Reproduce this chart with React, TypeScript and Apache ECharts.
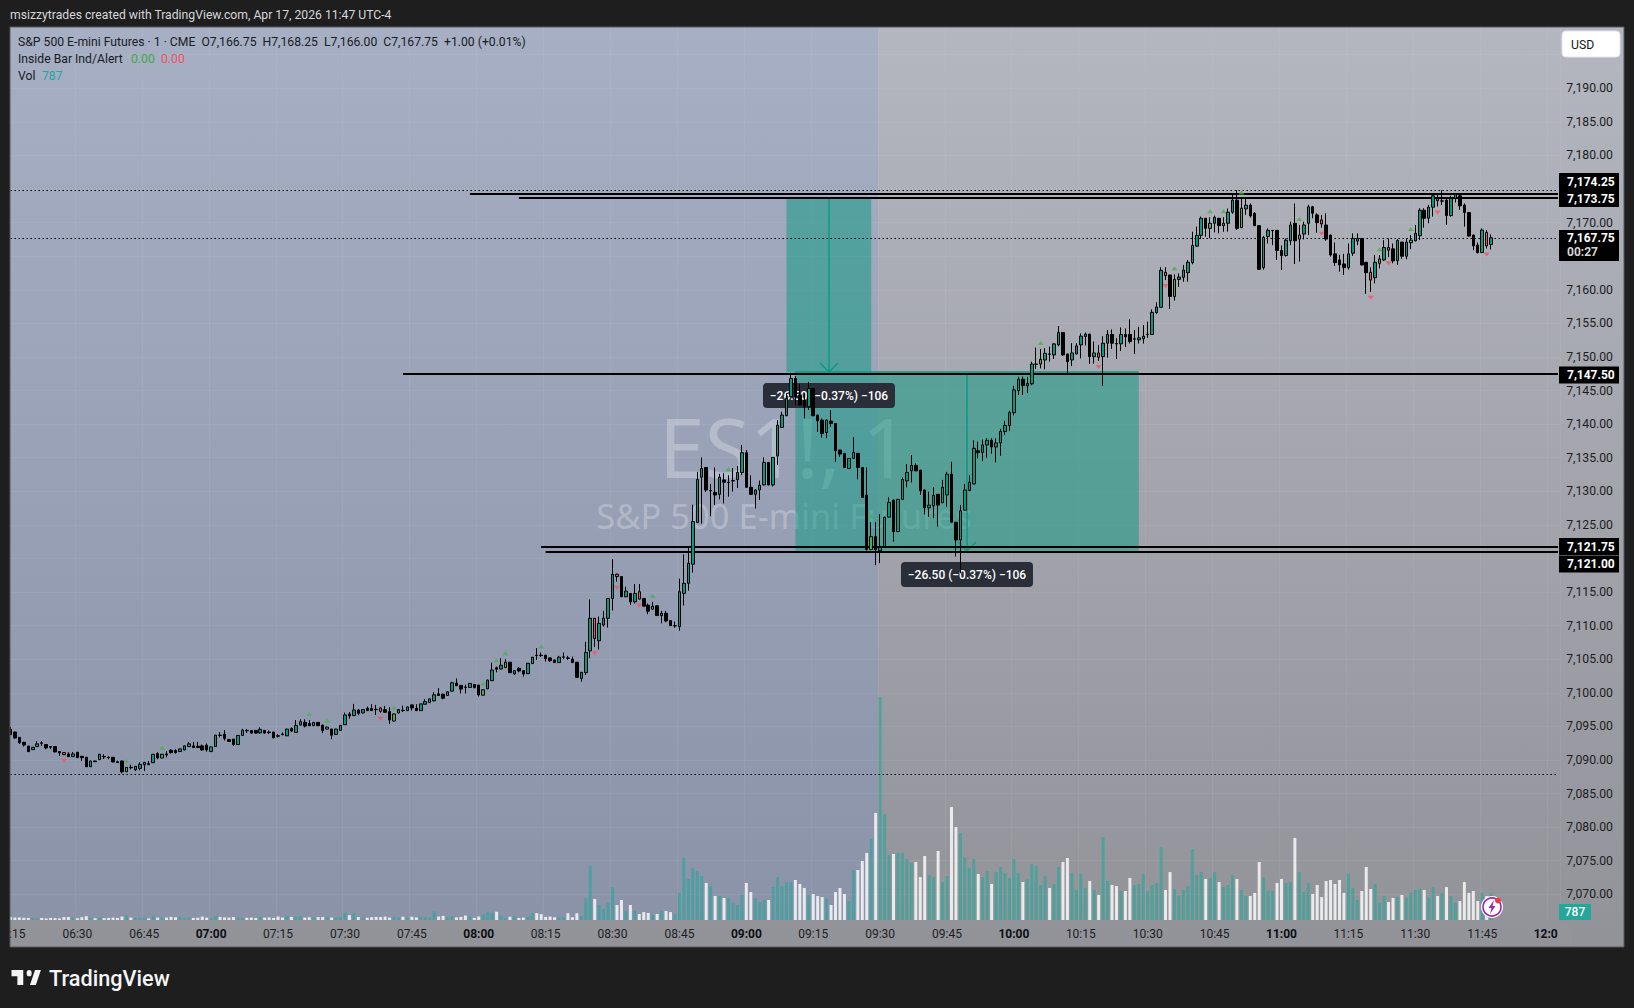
import React, { useEffect, useRef } from "react";
import * as echarts from "echarts";

// [open, close, low, high], one row per one-minute bar, first bar 06:15
const barsOvernight: number[][] = [
  [7094.56,7093.77,7093.7,7094.9],[7094.16,7093.27,7093.2,7094.2],[7093.37,7092.58,7092.4,7093.4],[7092.63,7092.23,7092.0,7092.7],[7092.08,7091.24,7091.2,7092.1],
  [7091.54,7091.88,7091.5,7091.95],[7092.0,7092.4,7091.95,7092.8],[7092.55,7092.5,7092.1,7092.8],[7092.3,7091.8,7091.6,7092.35],[7092.0,7091.9,7091.6,7092.05],
  [7092.0,7091.2,7091.15,7092.05],[7091.25,7091.05,7090.6,7091.3],[7091.1,7090.8,7090.75,7091.15],[7090.9,7090.5,7090.45,7091.15],[7090.5,7090.9,7090.45,7091.2],
  [7091.15,7090.35,7090.3,7091.2],[7090.55,7090.35,7089.85,7090.6],[7090.4,7089.0,7088.95,7090.45],[7089.0,7089.85,7088.95,7089.9],[7089.85,7089.75,7089.7,7089.9],
  [7090.05,7090.85,7090.0,7090.9],[7090.5,7090.45,7090.15,7090.85],[7090.4,7090.35,7090.1,7090.55],[7090.4,7089.7,7089.65,7090.45],[7089.75,7089.6,7089.55,7089.9],
  [7089.85,7088.25,7088.0,7089.9],[7088.25,7088.9,7088.2,7088.95],[7088.9,7088.85,7088.6,7089.3],[7088.55,7089.05,7088.35,7089.1],[7088.75,7089.35,7088.45,7089.65],
  [7089.3,7089.65,7088.35,7089.7],[7089.45,7089.3,7089.25,7089.85],[7089.6,7090.85,7089.55,7090.9],[7090.95,7090.3,7090.1,7091.15],[7090.3,7090.85,7090.25,7090.9],
  [7090.9,7090.75,7090.4,7091.3],[7091.45,7091.1,7090.95,7091.6],[7091.4,7091.1,7090.95,7091.6],[7091.25,7091.65,7091.2,7091.7],[7091.5,7092.1,7091.45,7092.15],
  [7092.0,7092.4,7091.95,7092.7],[7092.1,7091.85,7091.8,7092.7],[7092.05,7091.85,7091.8,7092.7],[7092.1,7091.5,7091.35,7092.3],[7092.2,7091.5,7091.25,7092.45],
  [7091.25,7091.95,7091.2,7092.0],[7092.0,7093.7,7091.95,7093.75],[7093.7,7093.65,7093.35,7094.15],[7093.85,7093.2,7092.9,7094.45],[7093.05,7092.75,7092.7,7093.1],
  [7093.1,7092.3,7092.1,7093.15],[7092.3,7093.65,7092.25,7093.7],[7093.65,7094.45,7093.6,7094.65],[7094.4,7094.35,7094.0,7094.6],[7094.4,7094.0,7093.95,7094.45],
  [7094.4,7094.0,7093.95,7094.45],[7094.05,7094.55,7093.9,7094.85],[7094.4,7094.0,7093.95,7094.45],[7094.15,7094.1,7093.85,7094.4],[7094.15,7093.3,7093.25,7094.2],
];
const barsPreMarket: number[][] = [
  [7093.6,7093.55,7093.35,7093.85],[7093.85,7093.8,7093.65,7094.1],[7093.6,7094.6,7093.55,7094.65],[7094.7,7094.3,7094.15,7094.85],[7094.1,7095.15,7094.05,7095.95],
  [7095.2,7095.7,7095.15,7096.05],[7095.6,7095.05,7094.85,7096.05],[7095.45,7095.1,7095.05,7095.95],[7095.1,7095.6,7095.05,7095.65],[7095.6,7095.1,7095.05,7095.65],
  [7095.2,7094.4,7094.0,7095.25],[7094.6,7094.9,7094.55,7094.95],[7094.6,7093.7,7093.1,7094.65],[7093.8,7094.6,7093.75,7094.65],[7094.4,7095.15,7094.35,7095.2],
  [7095.25,7096.7,7095.2,7097.05],[7096.85,7096.55,7096.15,7097.15],[7096.6,7097.45,7096.55,7098.35],[7097.45,7096.95,7096.65,7097.6],[7097.0,7097.5,7096.95,7097.55],
  [7097.7,7097.35,7097.3,7097.95],[7097.65,7097.35,7097.3,7098.3],[7097.55,7097.5,7096.7,7098.2],[7097.75,7097.25,7097.05,7097.8],[7097.5,7097.1,7097.05,7098.05],
  [7097.2,7095.95,7095.35,7097.85],[7095.8,7096.85,7095.75,7096.9],[7097.0,7097.5,7096.95,7097.55],[7097.4,7097.35,7097.15,7098.1],[7097.35,7097.9,7097.3,7097.95],
  [7098.2,7097.75,7097.35,7098.25],[7097.7,7097.35,7097.3,7098.3],[7097.35,7098.35,7097.3,7098.4],[7098.3,7098.7,7098.25,7099.05],[7098.55,7099.1,7098.5,7099.15],
  [7098.8,7099.7,7098.75,7100.1],[7099.85,7099.6,7099.55,7100.7],[7099.8,7099.2,7099.05,7099.85],[7099.6,7100.15,7099.55,7100.2],[7100.25,7101.5,7100.2,7101.65],
  [7101.45,7101.05,7101.0,7102.15],[7101.1,7100.55,7099.9,7101.15],[7100.85,7100.8,7099.9,7101.2],[7100.8,7101.4,7100.75,7101.45],[7101.25,7100.75,7100.7,7101.3],
  [7101.15,7099.7,7099.45,7101.2],[7099.65,7100.45,7099.6,7100.5],[7100.6,7101.9,7100.55,7101.95],[7101.8,7103.4,7101.75,7104.5],[7103.75,7103.5,7103.05,7103.9],
  [7103.55,7104.1,7103.5,7105.15],[7103.75,7104.55,7103.7,7105.0],[7104.55,7103.0,7102.95,7104.6],[7102.8,7103.3,7102.65,7103.35],[7103.65,7103.25,7103.05,7103.8],
  [7103.3,7102.8,7102.4,7103.35],[7102.85,7104.4,7102.8,7104.45],[7104.35,7105.3,7104.3,7105.35],[7105.6,7105.55,7104.9,7106.65],[7105.6,7105.55,7105.3,7106.0],
  [7105.6,7105.1,7104.65,7105.65],[7105.2,7104.8,7104.6,7105.25],[7104.9,7104.5,7104.45,7104.95],[7104.5,7105.3,7104.45,7105.5],[7105.3,7105.35,7105.0,7106.0],
  [7105.2,7105.15,7104.9,7105.5],
];
const barsNewsRun: number[][] = [
  [7105.0,7104.5,7104.45,7105.4],[7104.55,7102.3,7102.25,7104.6],[7102.15,7103.05,7101.65,7103.1],[7103.0,7106.0,7102.65,7107.6],[7106.25,7111.1,7105.15,7113.9],
  [7111.1,7108.1,7106.8,7111.15],[7107.75,7110.35,7106.45,7111.35],[7110.1,7111.1,7109.85,7112.2],[7111.1,7114.05,7109.7,7114.1],[7114.05,7117.65,7112.25,7119.9],
  [7117.65,7117.3,7116.55,7117.75],[7117.3,7114.3,7114.25,7117.35],[7114.3,7115.15,7114.25,7115.8],[7114.8,7113.55,7113.05,7114.85],[7113.55,7114.8,7113.3,7116.2],
  [7115.05,7113.95,7113.9,7116.2],[7114.05,7112.9,7112.85,7114.1],[7113.05,7112.15,7111.7,7113.3],[7112.45,7112.9,7112.4,7113.55],[7112.95,7111.5,7111.45,7113.0],
  [7111.5,7111.85,7110.35,7112.2],[7111.85,7110.7,7110.5,7112.2],[7110.75,7110.0,7109.95,7110.8],[7109.95,7110.0,7109.7,7110.6],[7109.85,7115.05,7109.25,7117.0],
  [7114.8,7116.3,7113.0,7120.6],[7116.3,7119.3,7115.2,7121.75],[7119.15,7125.5,7117.9,7128.0],[7125.35,7131.75,7125.3,7132.9],[7132.1,7133.4,7125.2,7135.05],
  [7133.55,7130.2,7129.9,7133.6],[7130.05,7130.1,7126.3,7131.1],[7129.85,7129.45,7127.95,7133.55],[7129.55,7132.1,7128.8,7132.6],[7131.7,7131.35,7128.2,7132.7],
  [7131.3,7131.35,7129.2,7132.4],[7131.55,7131.6,7129.95,7133.45],[7131.7,7132.8,7130.5,7133.75],[7132.8,7135.75,7132.4,7136.9],[7135.75,7130.6,7130.55,7136.15],
  [7130.6,7129.55,7129.5,7132.4],[7129.55,7130.2,7127.45,7130.25],[7130.2,7130.9,7128.7,7131.6],[7130.95,7134.3,7130.9,7135.05],[7134.3,7130.95,7130.9,7134.35],
  [7130.95,7135.05,7130.7,7135.1],[7135.25,7139.85,7133.9,7140.6],[7139.5,7141.35,7139.45,7141.85],[7141.25,7143.85,7141.2,7144.6],[7144.1,7146.8,7144.05,7147.5],
  [7146.8,7144.1,7142.85,7147.15],[7144.35,7142.85,7142.8,7146.0],[7143.6,7142.6,7140.85,7144.6],[7142.6,7145.3,7142.1,7146.3],[7145.3,7141.25,7141.2,7145.35],
  [7141.35,7140.5,7138.85,7141.4],[7140.6,7138.6,7138.0,7140.85],[7138.75,7140.6,7137.9,7140.7],[7140.45,7140.1,7139.6,7142.1],[7140.1,7136.05,7134.4,7140.15],
  [7136.15,7135.55,7135.1,7136.2],[7135.65,7133.55,7133.5,7135.7],[7133.4,7134.9,7133.3,7134.95],[7134.9,7135.8,7134.85,7138.05],[7135.65,7133.55,7131.8,7135.7],
  [7133.55,7129.1,7129.05,7133.6],[7129.45,7121.35,7121.2,7133.55],[7121.35,7123.25,7121.2,7125.4],[7123.25,7121.35,7119.0,7125.4],
];
const barsCashOpen: number[][] = [
  [7121.15,7121.65,7119.3,7126.6],[7121.75,7126.15,7121.7,7126.2],[7126.15,7128.35,7126.1,7129.1],[7128.7,7124.0,7122.5,7128.75],[7124.0,7128.8,7123.95,7128.85],
  [7128.8,7131.75,7128.75,7132.05],[7131.55,7132.8,7130.6,7134.05],[7133.05,7133.85,7131.3,7135.4],[7133.85,7133.05,7133.0,7134.15],[7133.15,7130.1,7129.45,7133.2],
  [7130.2,7127.55,7126.55,7130.25],[7127.55,7127.95,7126.2,7129.95],[7127.85,7129.4,7126.0,7130.6],[7129.55,7127.95,7124.75,7129.6],[7128.3,7130.6,7128.25,7131.7],
  [7129.45,7132.55,7127.7,7132.9],[7132.55,7125.4,7125.35,7134.4],[7125.4,7122.75,7120.3,7125.45],[7122.75,7127.1,7117.8,7127.95],[7127.2,7130.2,7127.15,7131.1],
  [7130.1,7131.35,7130.05,7132.4],[7131.1,7136.4,7131.05,7137.6],[7136.05,7135.75,7134.9,7137.4],[7135.8,7136.9,7134.5,7137.7],[7136.9,7137.6,7135.0,7137.9],
  [7137.6,7136.6,7135.6,7137.9],[7136.6,7137.2,7134.3,7137.9],[7137.2,7138.9,7135.3,7139.3],[7138.9,7139.8,7138.4,7140.5],[7139.8,7141.7,7139.0,7142.0],
  [7141.7,7145.1,7141.3,7145.7],[7145.0,7146.7,7144.35,7147.05],[7146.7,7145.75,7144.35,7147.1],[7145.7,7146.05,7144.6,7147.05],[7146.0,7148.95,7145.8,7149.3],
  [7148.9,7148.95,7148.2,7151.4],[7148.95,7149.65,7148.3,7151.2],[7149.55,7150.55,7148.15,7151.3],[7150.45,7150.4,7149.3,7151.55],[7150.3,7151.95,7149.7,7152.05],
  [7151.8,7153.65,7151.6,7154.6],[7153.65,7150.3,7150.15,7153.7],[7150.45,7149.3,7147.4,7150.5],[7149.55,7150.6,7148.65,7152.05],[7150.45,7151.65,7150.4,7152.05],
  [7151.8,7153.1,7149.8,7153.5],[7153.05,7153.4,7151.7,7153.65],[7153.4,7150.05,7148.95,7153.45],[7150.05,7150.6,7149.0,7152.3],[7150.6,7149.95,7149.4,7151.8],
  [7150.05,7152.05,7145.7,7153.1],[7152.05,7153.35,7149.9,7154.0],[7153.35,7152.05,7151.2,7154.1],[7152.0,7151.95,7149.7,7152.8],[7151.95,7153.35,7150.9,7154.4],
  [7153.35,7153.0,7151.5,7154.25],[7153.35,7152.3,7152.0,7155.6],[7152.65,7152.7,7150.45,7154.0],[7152.55,7152.85,7152.0,7154.5],[7152.7,7153.1,7152.0,7154.75],
  [7153.35,7153.4,7152.85,7155.25],[7153.35,7156.65,7153.3,7157.1],[7156.6,7157.45,7156.45,7158.15],[7157.4,7162.9,7157.35,7163.35],[7162.6,7162.1,7161.45,7163.35],
  [7162.2,7159.0,7157.15,7162.25],[7159.0,7161.55,7158.4,7162.3],[7161.55,7161.9,7160.45,7162.45],[7161.85,7162.95,7161.2,7163.7],[7162.55,7164.1,7161.2,7164.45],
];
const barsMidday: number[][] = [
  [7164.05,7166.6,7163.8,7168.65],[7166.5,7168.1,7166.4,7169.4],[7168.1,7170.65,7167.55,7170.9],[7170.65,7169.15,7167.9,7170.7],[7169.15,7169.9,7167.65,7170.8],
  [7169.9,7170.8,7168.55,7171.05],[7170.65,7169.55,7168.4,7170.7],[7169.55,7169.9,7168.65,7170.8],[7169.9,7171.55,7168.65,7172.1],[7171.55,7173.35,7171.3,7174.35],
  [7173.35,7169.15,7168.9,7174.85],[7169.25,7172.15,7169.2,7173.6],[7172.05,7172.6,7171.15,7173.6],[7172.6,7171.0,7170.75,7172.85],[7171.4,7169.55,7169.5,7171.55],
  [7169.55,7163.05,7163.0,7169.6],[7163.3,7167.8,7163.0,7168.0],[7167.95,7168.85,7166.9,7169.15],[7168.8,7168.85,7166.65,7168.9],[7168.85,7165.85,7164.45,7168.9],
  [7165.85,7165.1,7162.95,7166.6],[7165.1,7167.4,7164.95,7167.65],[7167.3,7169.65,7166.65,7170.15],[7169.9,7167.3,7163.85,7172.85],[7167.55,7168.15,7164.2,7169.65],
  [7168.3,7169.65,7167.5,7170.15],[7169.9,7172.35,7168.15,7172.65],[7172.35,7171.4,7170.65,7172.5],[7171.15,7170.0,7168.5,7171.4],[7170.4,7169.8,7169.25,7171.15],
  [7169.65,7167.55,7167.3,7171.4],[7168.15,7165.2,7164.95,7168.2],[7165.35,7164.05,7163.55,7167.05],[7164.45,7163.7,7162.7,7165.2],[7163.85,7163.3,7162.2,7165.35],
  [7163.3,7165.35,7163.0,7166.9],[7165.45,7167.65,7165.05,7168.4],[7167.25,7167.65,7166.65,7168.4],[7167.65,7163.7,7163.65,7167.7],[7164.1,7162.55,7159.4,7164.15],
  [7162.6,7161.45,7159.7,7163.35],[7161.8,7164.1,7160.95,7165.2],[7163.95,7164.6,7163.2,7165.15],[7164.45,7166.3,7164.3,7167.4],[7166.3,7165.9,7164.85,7167.65],
  [7166.1,7164.3,7163.95,7166.9],[7164.35,7167.35,7163.7,7167.55],[7167.1,7165.0,7164.6,7167.15],[7165.0,7167.1,7164.55,7167.65],[7167.0,7167.4,7166.05,7168.15],
  [7167.3,7168.4,7167.2,7169.65],[7168.05,7171.85,7167.4,7172.15],[7171.85,7170.65,7169.25,7172.15],[7170.65,7172.3,7169.9,7172.65],[7172.3,7174.0,7170.9,7174.35],
  [7173.6,7173.25,7172.4,7174.35],[7173.2,7173.25,7172.6,7174.85],[7173.35,7171.05,7169.65,7173.6],[7171.05,7173.6,7170.9,7174.0],[7173.6,7174.25,7173.0,7174.3],
  [7174.0,7172.5,7171.9,7174.35],[7172.6,7171.5,7169.4,7172.85],[7171.5,7168.0,7167.95,7171.55],[7168.15,7166.55,7165.9,7168.2],[7166.65,7165.55,7165.4,7167.05],
  [7165.55,7168.9,7165.45,7169.15],[7168.55,7166.55,7166.15,7168.9],[7166.75,7167.75,7166.0,7168.25],
];

const volumeEarly: number[] = [
  85,70,75,65,60,50,55,60,45,60, 55,45,85,90,70,50,80,110,60,50, 75,55,60,70,60,100,130,70,60,60,
  70,45,120,70,65,70,90,80,85,60, 70,60,65,100,70,60,110,90,75,70, 85,65,60,65,70,60,90,70,75,60,
  100,70,115,90,90,100,70,80,60,85, 90,85,70,70,80,210,140,190,85,65, 65,80,90,85,100,70,85,75,95,65,
  95,75,85,85,75,250,100,120,70,110, 75,90,130,110,60,100,160,220,210,240, 130,60,95,110,60,70,100,200,200,170,
  90,100,80,70,
];
const volumeBuild: number[] = [
  80,195,80,195,115,630,1565,610,435,320, 495,955,435,580,260,435,260,175,230,205,
  145,175,260,260,230,175,785,1800,1190,1510, 1420,1275,1075,985,695,695,640,640,495,435,
  725,1075,810,640,520,580,580,955,1245,985, 1100,1100,1160,1045,930,725,755,695,665,610,
  435,810,930,755,550,1450,1450,1710,1945,2350,3105,
];
const volumeCash: number[] = [
  6470,3075,1885,1915,1945,1945,1770,1655,1680,1245, 1855,1305,1245,2000,1100,1275,3275,2695,2525,1825,
  1510,1770,1335,1245,1420,1045,1390,1535,1365,1220, 1770,1365,1100,1190,1625,1565,1015,1275,930,1045,
  1535,1680,1800,1365,870,1335,930,1130,870,725, 2405,1130,1015,985,840,840,1220,1015,1045,1335,
  840,1015,1075,2115,870,1390,900,695,870,985,
];
const volumeLate: number[] = [
  2060,1305,1390,1190,1220,1390,1100,955,1015,1305, 1190,870,695,695,785,1680,1245,840,840,1075,
  1190,1075,1100,2380,1390,810,1075,755,1015,665, 1130,1160,1045,1160,785,1335,930,580,840,1535,
  900,1045,495,695,520,640,665,725,640,785, 870,900,870,640,955,695,785,955,695,495,
  550,1100,785,840,550,785,695,787,
];

// bars flagged by the "Inside Bar Ind/Alert" study
const insideUp: number[] = [26,34,67,71,86,106,109,111,119,144,161,193,231,261,269,272,276,289,307,314];
const insideDown: number[] = [12,83,131,136,141,244,259,294,305,309,320,331];

const hiddenPriceTicks: number[] = [7195,7175,7165,7120];
const legendLine = "S&P 500 E-mini Futures · 1 · CME  O7,166.75  H7,168.25  L7,166.00  C7,167.75  +1.00 (+0.01%)";
const header = "msizzytrades created with TradingView.com, Apr 17, 2026 11:47 UTC-4";
const measureText = "−26.50 (−0.37%) −106";

const bars = [...barsOvernight, ...barsPreMarket, ...barsNewsRun, ...barsCashOpen, ...barsMidday];
const volumes = [...volumeEarly, ...volumeBuild, ...volumeCash, ...volumeLate];

const pad = (n: number) => String(n).padStart(2, "0");
const firstMinute = 6 * 60 + 15;
const slotCount = 348;
const categories: string[] = [];
for (let i = 0; i < slotCount; i++) {
  const m = firstMinute + i;
  categories.push(`${pad(Math.floor(m / 60))}:${pad(m % 60)}`);
}
const isQuarter = (i: number) => (firstMinute + i) % 15 === 0;

const FONT = "Roboto";
const UP = "#089981";
const GREEN = "#4caf50";
const RED = "#f7525f";
const TEAL_VOL = "rgba(38,166,154,0.62)";
const WHITE_VOL = "rgba(255,255,255,0.8)";
const LAST = categories[slotCount - 1];

function App() {
  const ref = useRef<HTMLDivElement>(null);
  useEffect(() => {
    if (!ref.current) return;
    const chart = echarts.init(ref.current, undefined, { renderer: "svg" });
    echarts.graphic.registerShape(
      "tvLogo",
      echarts.graphic.extendPath(
        "M14 6H0v6h7v8h7V6z M22 20l6-14h7l-6 14h-7z M21 12a3 3 0 1 0 0-6 3 3 0 0 0 0 6z",
        {}
      )
    );

    const text = (t: string, x: number, y: number, fill: string, extra: any = {}, z = 30) => ({
      type: "text",
      z,
      silent: true,
      style: {
        text: t, x, y, fill,
        fontFamily: FONT, fontSize: 12.2,
        align: "left", verticalAlign: "middle",
        ...extra,
      },
    });
    const tag = (t: string, y: number, h = 17) => [
      { type: "rect", z: 28, silent: true, shape: { x: 1559, y: y - h / 2, width: 60, height: h }, style: { fill: "#000" } },
      text(t, 1567, y, "#fff", { fontWeight: "bold", fontSize: 12 }),
    ];
    const measureBox = (cx: number, cy: number) => [
      { type: "rect", z: 3, silent: true, shape: { x: cx - 66, y: cy - 12.5, width: 132, height: 25, r: 4 }, style: { fill: "#2a2e39" } },
      text(measureText, cx, cy, "#fff", { align: "center", fontWeight: 500, fontSize: 12 }, 3),
    ];
    const arrow = (x: number, y0: number, y1: number) => [
      { type: "line", z: 2, silent: true, shape: { x1: x, y1: y0, x2: x, y2: y1 }, style: { stroke: UP, lineWidth: 1.4 } },
      { type: "polyline", z: 2, silent: true, shape: { points: [[x - 9, y1 - 9], [x, y1], [x + 9, y1 - 9]] }, style: { stroke: UP, lineWidth: 1.4, fill: "none" } },
    ];

    const graphicElements: any[] = [
      // pane backgrounds
      { type: "rect", z: -3, silent: true, shape: { x: 10, y: 27, width: 1614, height: 920 },
        style: { fill: new echarts.graphic.LinearGradient(0, 0, 0, 1, [{ offset: 0, color: "#b4b6c0" }, { offset: 1, color: "#929399" }]) } },
      { type: "rect", z: -2, silent: true, shape: { x: 10, y: 27, width: 868, height: 893 },
        style: { fill: new echarts.graphic.LinearGradient(0, 0, 0, 1, [{ offset: 0, color: "#a6afc4" }, { offset: 1, color: "#8b93a9" }]) } },
      // watermark
      text("ES1!, 1", 784, 446, "rgba(255,255,255,0.27)", { align: "center", fontSize: 82, fontFamily: "Noto Sans" }, -1),
      text("S&P 500 E-mini Futures", 784, 515, "rgba(255,255,255,0.27)", { align: "center", fontSize: 34.5, fontFamily: "Noto Sans" }, -1),
      // measure tool
      ...arrow(829, 197, 372),
      ...arrow(967, 373, 551),
      ...measureBox(829, 395.5),
      ...measureBox(967, 574.5),
      // frame covers
      { type: "rect", z: 20, silent: true, shape: { x: 0, y: 27, width: 10, height: 921 }, style: { fill: "#1e1e1e" } },
      { type: "rect", z: 20, silent: true, shape: { x: 1558, y: 924, width: 14, height: 22 }, style: { fill: "#949599" } },
      { type: "rect", z: 21, silent: true, shape: { x: 10, y: 27, width: 1614, height: 920 }, style: { fill: "none", stroke: "#55565a", lineWidth: 1 } },
      // header and legend
      text(header, 10, 15, "#d6d7da"),
      text(legendLine, 18, 42, "#1a1c24"),
      text("Inside Bar Ind/Alert", 18, 59, "#1a1c24"),
      text("0.00", 131, 59, "#43a848"),
      text("0.00", 161, 59, "#f2535c"),
      text("Vol", 18, 76, "#1a1c24"),
      text("787", 42, 76, "#26a69a"),
      // currency button
      { type: "rect", z: 27, silent: true, shape: { x: 1562, y: 31, width: 58, height: 26, r: 4 }, style: { fill: "#fff", stroke: "#e4e5e8" } },
      text("USD", 1571, 44.5, "#131722"),
      // price tags
      ...tag("7,174.25", 181.5),
      ...tag("7,173.75", 198.5),
      { type: "rect", z: 28, silent: true, shape: { x: 1559, y: 230, width: 60, height: 31 }, style: { fill: "#000" } },
      text("7,167.75", 1567, 238, "#fff", { fontWeight: "bold", fontSize: 12 }),
      text("00:27", 1567, 252, "#d6d6d6", { fontWeight: "bold", fontSize: 12 }),
      ...tag("7,147.50", 375),
      ...tag("7,121.75", 546.5),
      ...tag("7,121.00", 564),
      // volume tag
      { type: "rect", z: 28, silent: true, shape: { x: 1559, y: 904, width: 32, height: 16 }, style: { fill: "#26a69a" } },
      text("787", 1575, 912, "#fff", { align: "center", fontWeight: 500, fontSize: 12 }),
      // alert icon
      { type: "circle", z: 28, silent: true, shape: { cx: 1492, cy: 907, r: 11 }, style: { fill: "#fff" } },
      { type: "circle", z: 28, silent: true, shape: { cx: 1492, cy: 907, r: 9 }, style: { fill: "#fff", stroke: "#9c27b0", lineWidth: 1.6 } },
      { type: "polygon", z: 29, silent: true, shape: { points: [[1494, 900], [1488.5, 908], [1491.5, 908], [1490, 914], [1495.5, 906], [1492.5, 906]] }, style: { fill: "#9c27b0" } },
      { type: "circle", z: 29, silent: true, shape: { cx: 1498, cy: 900.5, r: 3 }, style: { fill: "#f23645" } },
      // brand
      { type: "tvLogo", z: 30, silent: true, x: 11.5, y: 963.5, scaleX: 0.84, scaleY: 1.07, style: { fill: "#f5f5f5" } },
      text("TradingView", 49, 978, "#f5f5f5", { fontSize: 21.7, fontWeight: 500 }),
    ];

    const level = (price: number, startIdx: number, dotted = false) => [
      { coord: [categories[startIdx], price], lineStyle: { type: dotted ? [1.5, 2.5] : "solid", width: dotted ? 1 : 2, color: "#000" } },
      { coord: [LAST, price] },
    ];

    const candleData = bars.map((b, i) => {
      const up = b[1] >= b[0];
      if (insideDown.includes(i)) return { value: b, itemStyle: { color: RED, color0: RED } };
      if (insideUp.includes(i) && up) return { value: b, itemStyle: { color: GREEN, color0: GREEN } };
      return { value: b };
    });

    const volumeData = volumes.map((v, i) => ({
      value: v,
      itemStyle: { color: bars[i][1] >= bars[i][0] ? TEAL_VOL : WHITE_VOL },
    }));

    chart.setOption({
      animation: false,
      backgroundColor: "#1e1e1e",
      textStyle: { fontFamily: FONT },
      graphic: { elements: graphicElements },
      grid: [
        { left: 8.24, width: 1552, top: 54.72, height: 839.6, containLabel: false, outerBoundsMode: "none" },
        { left: 8.24, width: 1552, top: 27, height: 893, containLabel: false, outerBoundsMode: "none" },
      ],
      xAxis: [
        { type: "category", gridIndex: 0, data: categories, boundaryGap: true, show: false },
        {
          type: "category", gridIndex: 1, data: categories, boundaryGap: true,
          axisLine: { show: false }, axisTick: { show: false },
          splitLine: { show: true, interval: (i: number) => isQuarter(i), lineStyle: { color: "rgba(255,255,255,0.06)", width: 1 } },
          axisLabel: {
            interval: (i: number) => isQuarter(i),
            hideOverlap: false, showMinLabel: true, showMaxLabel: true,
            margin: 8, color: "#1c1d22", fontSize: 12, fontFamily: FONT,
            formatter: (v: string) => (v.endsWith(":00") ? `{h|${v}}` : v),
            rich: { h: { fontWeight: "bold", fontSize: 12, color: "#0d0e12", fontFamily: FONT } },
          },
        },
      ],
      yAxis: [
        {
          type: "value", gridIndex: 0, position: "right",
          min: 7070, max: 7195, interval: 5,
          axisLine: { show: false }, axisTick: { show: false },
          splitLine: { show: true, lineStyle: { color: "rgba(255,255,255,0.06)", width: 1 } },
          axisLabel: {
            margin: 6, color: "#1c1d22", fontSize: 12.2, fontFamily: FONT,
            showMinLabel: true, showMaxLabel: true,
            formatter: (v: number) =>
              hiddenPriceTicks.includes(v)
                ? ""
                : v.toLocaleString("en-US", { minimumFractionDigits: 2, maximumFractionDigits: 2 }),
          },
        },
        { type: "value", gridIndex: 1, min: 0, max: 25900, show: false },
      ],
      series: [
        {
          name: "Vol", type: "bar", xAxisIndex: 1, yAxisIndex: 1, z: 1,
          barWidth: 3, data: volumeData,
        },
        {
          name: "Position", type: "line", xAxisIndex: 0, yAxisIndex: 0, z: 1,
          data: [], silent: true,
          markArea: {
            silent: true,
            itemStyle: { color: "rgba(8,153,129,0.5)" },
            data: [
              [{ coord: [categories[174], 7173.75] }, { coord: [categories[193], 7147.7] }],
              [{ coord: [categories[176], 7147.7] }, { coord: [categories[253], 7121.15] }],
            ],
          },
        },
        {
          name: "Levels", type: "line", xAxisIndex: 0, yAxisIndex: 0, z: 4,
          data: [], silent: true,
          markLine: {
            silent: true, symbol: "none", animation: false,
            label: { show: false },
            data: [
              [{ coord: [categories[176], 7147.85], lineStyle: { type: "solid", width: 1.5, color: UP } }, { coord: [categories[253], 7147.85] }],
              level(7174.75, 0, true),
              level(7167.75, 0, true),
              level(7087.9, 0, true),
              level(7174.25, 103),
              level(7173.75, 114),
              level(7147.5, 88),
              level(7121.75, 119),
              level(7121.0, 120),
            ],
          },
        },
        {
          name: "ES1!", type: "candlestick", xAxisIndex: 0, yAxisIndex: 0, z: 5,
          barWidth: 3,
          itemStyle: {
            color: UP, color0: "#000",
            borderColor: "#000", borderColor0: "#000", borderColorDoji: "#000",
            borderWidth: 1,
          },
          data: candleData,
        },
        {
          name: "Inside up", type: "scatter", xAxisIndex: 0, yAxisIndex: 0, z: 6,
          symbol: "triangle", symbolSize: [6, 4], symbolOffset: [0, -6],
          itemStyle: { color: GREEN }, silent: true,
          data: insideUp.map((i) => [categories[i], bars[i][3]]),
        },
        {
          name: "Inside down", type: "scatter", xAxisIndex: 0, yAxisIndex: 0, z: 6,
          symbol: "triangle", symbolSize: [6, 4], symbolRotate: 180, symbolOffset: [0, 6],
          itemStyle: { color: RED }, silent: true,
          data: insideDown.map((i) => [categories[i], bars[i][2]]),
        },
      ],
    });
    return () => chart.dispose();
  }, []);
  return <div ref={ref} style={{ position: "fixed", left: 0, top: 0, width: 1634, height: 1008 }} />;
}

export default App;
